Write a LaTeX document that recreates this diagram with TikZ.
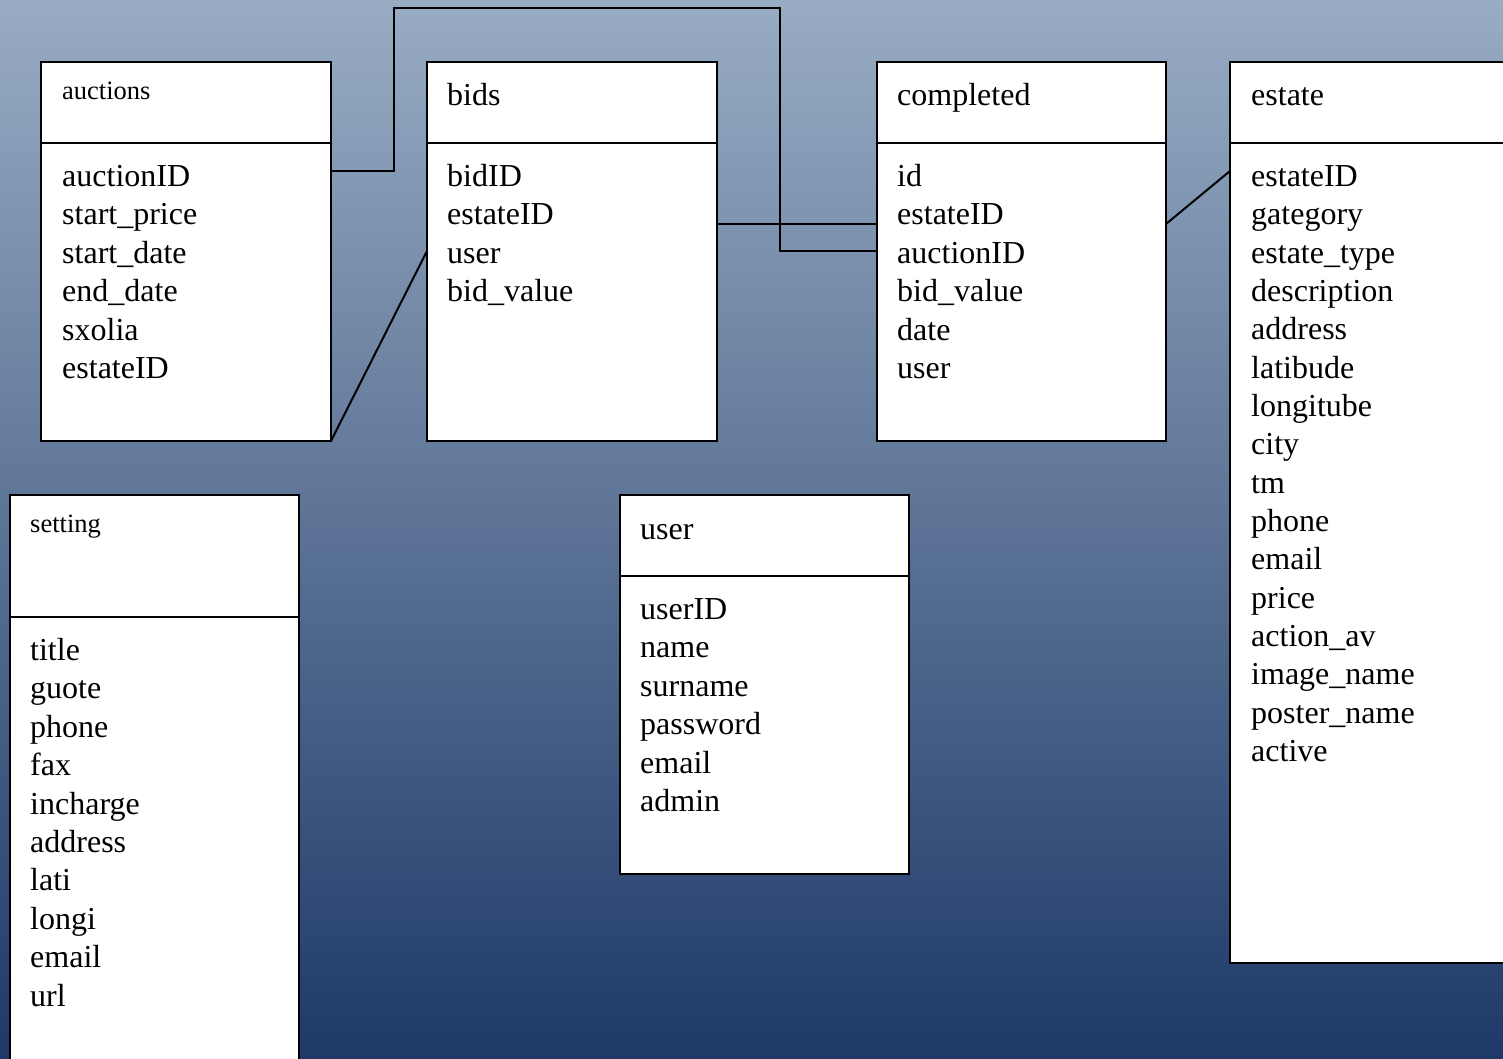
\documentclass[tikz,border=0pt]{standalone}
\usepackage{fontspec}
\setmainfont{Liberation Serif}
\definecolor{bgtop}{HTML}{98ACC3}
\definecolor{bgmid}{HTML}{687E9C}
\definecolor{bgbot}{HTML}{1E3968}
\begin{document}
\begin{tikzpicture}[x=1pt,y=-1pt,
  tbl/.style={draw=black,fill=white,line width=2pt,anchor=north west,inner sep=0pt,outer sep=0pt},
  divider/.style={line width=2pt},
  fld/.style={anchor=base west,inner sep=0pt,font=\fontsize{32}{38}\selectfont},
  bigttl/.style={anchor=base west,inner sep=0pt,font=\fontsize{32}{38}\selectfont},
  smallttl/.style={anchor=base west,inner sep=0pt,font=\fontsize{26.5}{32}\selectfont},
  conn/.style={line width=2pt,draw=black}]
\useasboundingbox (0,0) rectangle (1503,1059);
\clip (0,0) rectangle (1503,1059);
\shade[top color=bgtop,middle color=bgmid,bottom color=bgbot] (0,0) rectangle (1503,1059);

% tables
\node[tbl,minimum width=290pt,minimum height=379pt] (auctions) at (41,62) {};
\node[tbl,minimum width=290pt,minimum height=379pt] (bids) at (427,62) {};
\node[tbl,minimum width=289pt,minimum height=379pt] (completed) at (877,62) {};
\node[tbl,minimum width=300pt,minimum height=901pt] (estate) at (1230,62) {};
\node[tbl,minimum width=289pt,minimum height=600pt] (setting) at (10,495) {};
\node[tbl,minimum width=289pt,minimum height=379pt] (user) at (620,495) {};

\draw[divider] (41,143) -- (331,143);
\draw[divider] (427,143) -- (717,143);
\draw[divider] (877,143) -- (1166,143);
\draw[divider] (1230,143) -- (1530,143);
\draw[divider] (10,617) -- (299,617);
\draw[divider] (620,576) -- (909,576);

% titles
\node[smallttl] (t-auctions) at (62,100) {auctions};
\node[bigttl] (t-bids) at (447,106) {bids};
\node[bigttl] (t-completed) at (897,106) {completed};
\node[bigttl] (t-estate) at (1251,106) {estate};
\node[smallttl] (t-setting) at (30,532) {setting};
\node[bigttl] (t-user) at (640,539) {user};

% fields
\foreach \t [count=\i from 0] in {auctionID,start\_price,start\_date,end\_date,sxolia,estateID}
  \node[fld] (auctions-\i) at (62,{186.5+38.4*\i}) {\t};
\foreach \t [count=\i from 0] in {bidID,estateID,user,bid\_value}
  \node[fld] (bids-\i) at (447,{186.5+38.4*\i}) {\t};
\foreach \t [count=\i from 0] in {id,estateID,auctionID,bid\_value,date,user}
  \node[fld] (completed-\i) at (897,{186.5+38.4*\i}) {\t};
\foreach \t [count=\i from 0] in {estateID,gategory,estate\_type,description,address,latibude,longitube,city,tm,phone,email,price,action\_av,image\_name,poster\_name,active}
  \node[fld] (estate-\i) at (1251,{186.5+38.33*\i}) {\t};
\foreach \t [count=\i from 0] in {title,guote,phone,fax,incharge,address,lati,longi,email,url}
  \node[fld] (setting-\i) at (30,{660.5+38.4*\i}) {\t};
\foreach \t [count=\i from 0] in {userID,name,surname,password,email,admin}
  \node[fld] (user-\i) at (640,{619.5+38.4*\i}) {\t};

% connector end points on the table edges
\coordinate (aucR) at (331,171);
\coordinate (compL1) at (877,251);
\coordinate (bidsR) at (717,224);
\coordinate (compL2) at (877,224);
\coordinate (bidsL) at (427,251);
\coordinate (compR) at (1166,224);
\coordinate (estL) at (1230,171);

% connectors
\draw[conn] (aucR) -| (394,8) -| (780,251) -- (compL1);
\draw[conn] (bidsR) -- (compL2);
\draw[conn] (auctions.south east) -- (bidsL);
\draw[conn] (compR) -- (estL);
\end{tikzpicture}
\end{document}
